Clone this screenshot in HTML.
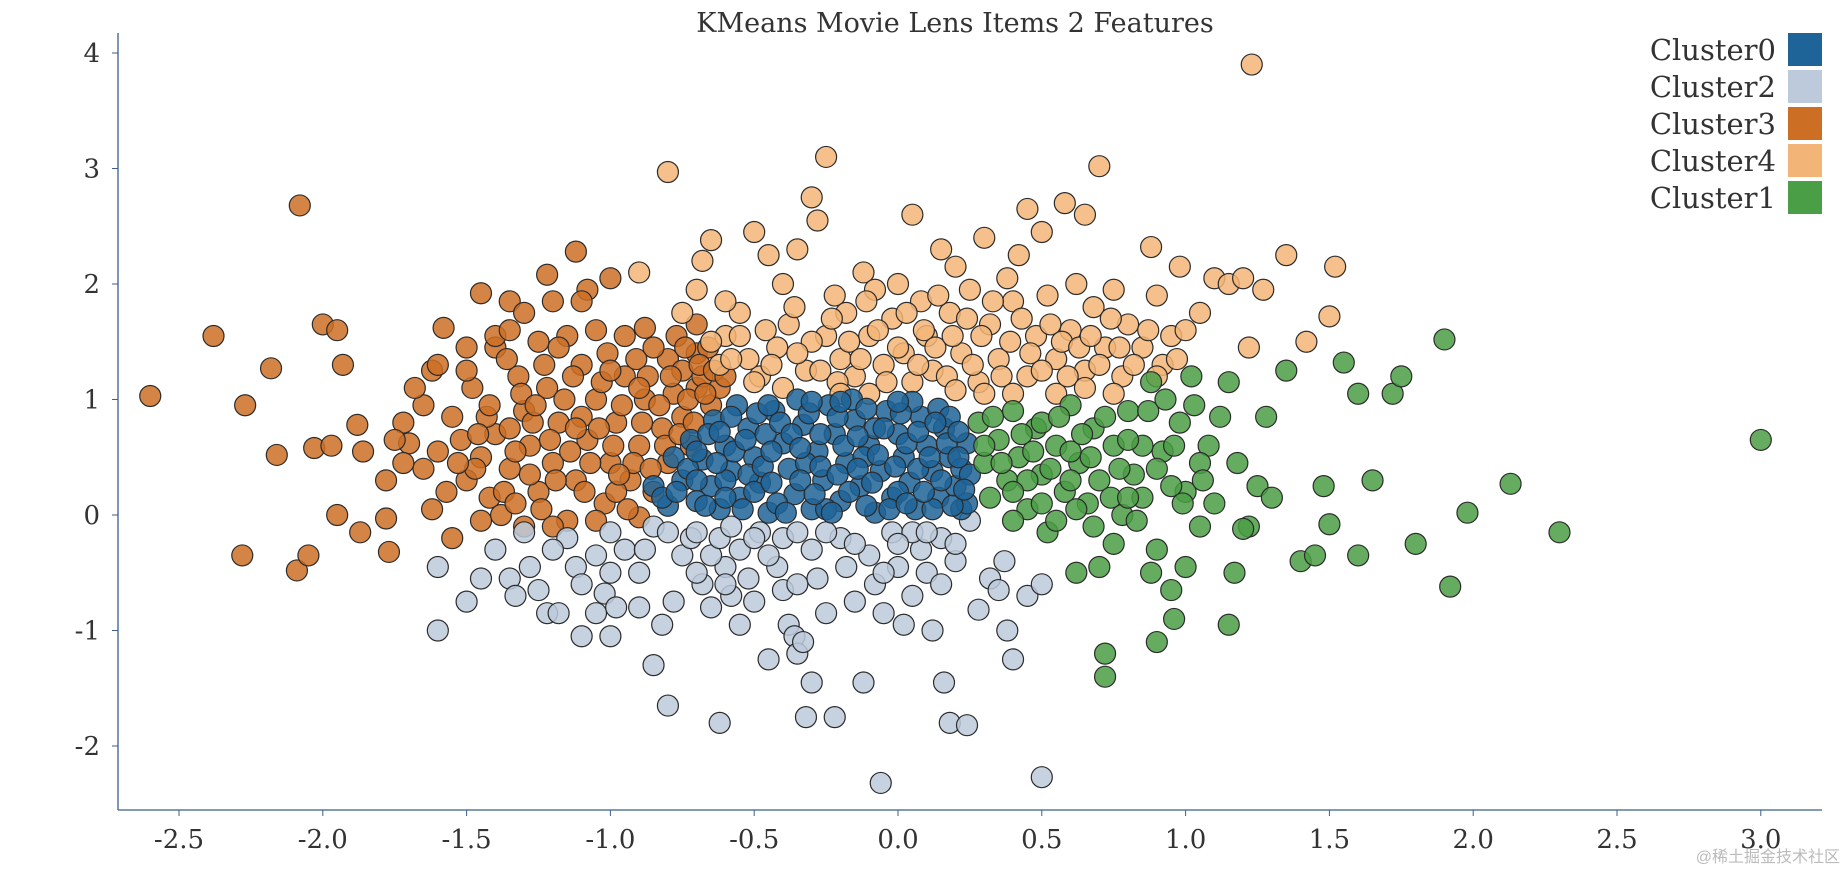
<!DOCTYPE html>
<html><head><meta charset="utf-8"><style>
body{margin:0;background:#fff;}
svg{display:block;font-family:"DejaVu Serif","Liberation Serif",serif;}
</style></head><body>
<svg id="chart" width="1848" height="872" viewBox="0 0 1848 872" xmlns="http://www.w3.org/2000/svg">
<text x="955" y="32" font-size="27" fill="#333" text-anchor="middle">KMeans Movie Lens Items 2 Features</text>
<g id="axes"></g>
<g id="points"></g>
<g id="legend"></g>
<text x="1840" y="862" font-size="16" fill="#bbb" text-anchor="end" font-family="'Liberation Sans','Noto Sans CJK SC',sans-serif">@稀土掘金技术社区</text>
</svg>
<script>
const xTicks=[-2.5,-2.0,-1.5,-1.0,-0.5,0.0,0.5,1.0,1.5,2.0,2.5,3.0];
const yTicks=[-2,-1,0,1,2,3,4];
const clusterNames=["Cluster0","Cluster2","Cluster3","Cluster4","Cluster1"];
const clusterColors=["#1f6499","#bccadb","#cc6f24","#f3b577","#4a9e45"];
const cluster3Points=[[-2.6,1.03],[-2.38,1.55],[-2.27,0.95],[-2.18,1.27],[-2.16,0.52],[-2.08,2.68],[-2.0,1.65],[-1.95,1.6],[-2.03,0.58],[-1.97,0.6],[-1.93,1.3],[-2.28,-0.35],[-2.09,-0.48],[-2.05,-0.35],[-1.95,0.0],[-1.88,0.78],[-1.86,0.55],[-1.87,-0.15],[-1.77,-0.32],[-1.78,-0.03],[-1.78,0.3],[-1.7,0.62],[-1.72,0.8],[-1.65,0.95],[-1.62,1.25],[-1.58,1.62],[-1.45,1.92],[-1.35,1.85],[-1.3,1.75],[-1.22,2.08],[-1.12,2.28],[-1.08,1.95],[-1.0,2.05],[-0.88,1.62],[-0.8,1.35],[-0.75,1.25],[-0.7,1.1],
[-1.5,0.3],[-1.45,0.5],[-1.4,0.7],[-1.42,0.15],[-1.38,0.0],[-1.35,0.4],[-1.3,0.9],[-1.28,0.6],[-1.25,0.2],[-1.22,1.1],[-1.2,0.45],[-1.18,0.8],[-1.15,-0.05],[-1.12,0.3],[-1.1,1.3],[-1.08,0.65],[-1.05,1.0],[-1.02,0.1],[-1.0,0.45],[-0.98,0.8],[-0.95,1.2],[-0.93,0.3],[-0.9,0.6],[-0.88,1.0],[-0.85,0.2],[-0.82,0.75],[-0.8,0.45],[-0.78,1.05],[-0.75,0.85],[-0.72,0.6],[-0.7,1.4],[-0.68,1.2],[-0.65,0.95],[-0.62,1.1],[-1.55,0.85],[-1.6,0.55],[-1.62,0.05],[-1.55,-0.2],[-1.48,1.1],[-1.4,1.45],[-1.32,1.2],[-1.25,1.5],[-1.15,1.55],[-1.05,1.6],[-0.95,1.55],[-0.85,1.45],[-1.3,-0.1],[-1.2,-0.1],[-1.05,-0.05],[-0.9,-0.02],[-1.45,-0.05],[-1.65,0.4],[-1.52,0.65],[-1.35,0.75],[-1.1,0.85],[-0.98,0.2],[-1.28,0.35],[-1.4,1.55],[-1.35,1.6],[-1.68,1.1],[-1.75,0.65],[-1.72,0.45],[-1.6,1.3],[-1.5,1.45],[-1.2,1.85],[-1.1,1.85],[-0.77,1.55],[-0.7,1.65],[-0.66,1.45],
[-1.47,0.4],[-1.43,0.85],[-1.37,0.2],[-1.33,0.55],[-1.31,1.05],[-1.27,0.8],[-1.24,0.05],[-1.21,0.65],[-1.19,0.3],[-1.16,1.0],[-1.14,0.55],[-1.13,1.2],[-1.09,0.2],[-1.07,0.45],[-1.04,0.75],[-1.03,1.15],[-1.01,1.4],[-0.99,0.6],[-0.96,0.95],[-0.94,0.05],[-0.92,0.45],[-0.91,1.35],[-0.89,0.8],[-0.87,1.2],[-0.86,0.4],[-0.83,0.95],[-0.81,0.6],[-0.79,1.2],[-0.76,0.7],[-0.74,1.45],[-0.73,1.0],[-0.71,0.8],[-0.69,1.3],[-0.67,1.05],[-0.64,1.25],[-0.6,1.2],[-1.57,0.2],[-1.53,0.45],[-1.5,1.25],[-1.46,0.7],[-1.36,1.35],[-1.33,0.1],[-1.23,1.3],[-1.18,1.45],[-1.0,1.25],[-0.9,1.1],[-1.42,0.95],[-1.26,0.95],[-1.12,0.75],[-0.97,0.35]];
const cluster2Points=[[-1.6,-1.0],[-1.6,-0.45],[-1.5,-0.75],[-1.45,-0.55],[-1.4,-0.3],[-1.35,-0.55],[-1.33,-0.7],[-1.28,-0.45],[-1.25,-0.65],[-1.22,-0.85],[-1.18,-0.85],[-1.12,-0.45],[-1.1,-0.6],[-1.1,-1.05],[-1.05,-0.85],[-1.02,-0.68],[-1.0,-1.05],[-0.98,-0.8],[-0.95,-0.3],[-0.9,-0.5],[-0.85,-0.1],[-0.82,-0.95],[-0.85,-1.3],[-0.8,-1.65],[-0.78,-0.75],[-0.75,-0.35],[-0.72,-0.2],[-0.68,-0.6],[-0.65,-0.8],[-0.62,-1.8],[-0.6,-0.45],[-0.58,-0.7],[-0.55,-0.3],[-0.52,-0.55],[-0.5,-0.75],[-0.48,-0.15],[-0.45,-1.25],[-0.42,-0.45],[-0.4,-0.65],[-0.38,-0.95],[-0.36,-1.05],[-0.35,-1.2],[-0.33,-1.1],[-0.32,-1.75],[-0.3,-1.45],[-0.3,-0.3],[-0.28,-0.55],[-0.25,-0.85],[-0.22,-1.75],[-0.2,-0.2],[-0.18,-0.45],[-0.15,-0.75],[-0.12,-1.45],[-0.1,-0.35],[-0.08,-0.6],[-0.06,-2.32],[-0.05,-0.85],[-0.02,-0.15],[0.0,-0.45],[0.02,-0.95],[0.05,-0.7],[0.08,-0.3],[0.1,-0.5],[0.12,-1.0],[0.15,-0.2],[0.16,-1.45],[0.18,-1.8],[0.2,-0.4],[0.24,-1.82],[0.25,-0.05],[0.28,-0.82],[0.32,-0.55],[0.35,-0.65],[0.37,-0.4],[0.38,-1.0],[0.4,-1.25],[0.45,-0.7],[0.5,-0.6],[0.5,-2.27],[-0.5,-0.2],[-0.7,-0.15],[-1.3,-0.15],[-1.15,-0.2],[-1.0,-0.15],[-0.4,-0.2],[-0.25,-0.15],[0.05,-0.15],[-0.65,-0.35],[-0.9,-0.8],[-0.55,-0.95],
[-1.2,-0.3],[-1.05,-0.35],[-0.88,-0.3],[-0.8,-0.15],[-0.62,-0.2],[-0.58,-0.1],[-0.45,-0.35],[-0.35,-0.15],[-0.15,-0.25],[0.0,-0.25],[0.1,-0.15],[0.2,-0.25],[-0.7,-0.5],[-0.35,-0.6],[-0.05,-0.5],[0.15,-0.6],[-1.0,-0.5],[-0.6,-0.6]];
const cluster4Points=[[-0.9,2.1],[-0.8,2.97],[-0.75,1.75],[-0.7,1.95],[-0.68,2.2],[-0.65,2.38],[-0.6,1.55],[-0.55,1.75],[-0.5,2.45],[-0.48,1.2],[-0.45,2.25],[-0.42,1.45],[-0.4,2.0],[-0.38,1.65],[-0.35,2.3],[-0.32,1.25],[-0.3,2.75],[-0.28,2.55],[-0.25,3.1],[-0.25,1.55],[-0.22,1.9],[-0.2,1.35],[-0.18,1.75],[-0.15,1.2],[-0.12,2.1],[-0.1,1.55],[-0.08,1.95],[-0.05,1.3],[-0.02,1.7],[0.0,2.0],[0.02,1.4],[0.05,2.6],[0.05,1.15],[0.08,1.85],[0.1,1.55],[0.12,1.25],[0.15,2.3],[0.18,1.75],[0.2,2.15],[0.22,1.4],[0.25,1.95],[0.28,1.15],[0.3,2.4],[0.32,1.65],[0.35,1.35],[0.38,2.05],[0.4,1.85],[0.42,2.25],[0.45,1.2],[0.45,2.65],[0.48,1.55],[0.5,2.45],[0.52,1.9],[0.55,1.35],[0.58,2.7],[0.6,1.6],[0.62,2.0],[0.65,1.25],[0.65,2.6],[0.68,1.8],[0.7,3.02],[0.72,1.45],[0.75,1.95],[0.78,1.2],[0.8,1.65],[0.85,1.45],[0.88,2.32],[0.9,1.9],[0.92,1.3],[0.95,1.55],[0.98,2.15],[1.0,1.6],[1.05,1.75],[1.1,2.05],[1.15,2.0],[1.2,2.05],[1.22,1.45],[1.23,3.9],[1.27,1.95],[1.35,2.25],[1.42,1.5],[1.5,1.72],[1.52,2.15],[-0.62,1.3],[-0.52,1.35],[-0.4,1.1],[-0.3,1.5],[-0.1,1.05],[0.3,1.05],[0.55,1.05],[0.75,1.05],
[-0.58,1.35],[-0.55,1.55],[-0.5,1.15],[-0.46,1.6],[-0.44,1.3],[-0.36,1.8],[-0.35,1.4],[-0.27,1.25],[-0.23,1.7],[-0.21,1.15],[-0.17,1.5],[-0.13,1.35],[-0.11,1.85],[-0.07,1.6],[-0.04,1.15],[0.0,1.45],[0.03,1.75],[0.07,1.3],[0.09,1.6],[0.13,1.45],[0.14,1.9],[0.17,1.2],[0.19,1.55],[0.24,1.7],[0.26,1.3],[0.29,1.55],[0.33,1.85],[0.36,1.2],[0.39,1.5],[0.43,1.7],[0.46,1.4],[0.5,1.25],[0.53,1.65],[0.57,1.5],[0.59,1.2],[0.63,1.45],[0.67,1.55],[0.7,1.3],[0.74,1.7],[0.77,1.45],[0.82,1.3],[0.87,1.6],[0.9,1.2],[0.97,1.35],[-0.65,1.5],[-0.6,1.85],[0.4,1.05],[0.65,1.1],[0.2,1.08],[-0.2,1.05]];
const cluster0Points=[[-0.8,0.08],[-0.75,0.3],[-0.7,0.12],[-0.68,0.48],[-0.65,0.25],[-0.62,0.05],[-0.6,0.6],[-0.58,0.38],[-0.55,0.15],[-0.52,0.75],[-0.5,0.5],[-0.48,0.28],[-0.45,0.02],[-0.43,0.9],[-0.4,0.62],[-0.38,0.4],[-0.36,0.18],[-0.33,0.78],[-0.3,0.05],[-0.28,0.55],[-0.26,0.3],[-0.24,0.95],[-0.22,0.7],[-0.2,0.12],[-0.18,0.45],[-0.15,0.82],[-0.13,0.25],[-0.1,0.6],[-0.08,0.02],[-0.06,0.38],[-0.04,0.9],[-0.02,0.15],[0.0,0.7],[0.02,0.5],[0.04,0.28],[0.06,0.05],[0.08,0.85],[0.1,0.6],[0.12,0.38],[0.14,0.15],[0.16,0.75],[0.18,0.5],[0.2,0.25],[0.22,0.05],[0.24,0.62],[0.22,0.4],[-0.72,0.65],[-0.64,0.82],[-0.56,0.95],[-0.46,0.7],[-0.35,1.0],[-0.16,1.0],[0.05,0.98],[0.14,0.92],[-0.6,0.3],[-0.42,0.1],[-0.32,0.45],[-0.12,0.5],[0.0,0.2],[-0.25,0.05],[0.12,0.05],[-0.52,0.35],[-0.08,0.75],[0.18,0.85],[-0.78,0.5],[-0.85,0.25],[0.25,0.35],[0.24,0.1],
[-0.82,0.15],[-0.77,0.2],[-0.73,0.4],[-0.7,0.3],[-0.67,0.08],[-0.66,0.7],[-0.63,0.45],[-0.6,0.15],[-0.58,0.85],[-0.57,0.55],[-0.54,0.05],[-0.53,0.65],[-0.5,0.2],[-0.49,0.88],[-0.47,0.42],[-0.44,0.55],[-0.44,0.28],[-0.41,0.8],[-0.39,0.02],[-0.37,0.7],[-0.34,0.3],[-0.34,0.58],[-0.31,0.88],[-0.29,0.18],[-0.27,0.42],[-0.27,0.7],[-0.23,0.02],[-0.21,0.35],[-0.21,0.85],[-0.19,0.6],[-0.17,0.2],[-0.14,0.4],[-0.14,0.68],[-0.11,0.92],[-0.11,0.08],[-0.09,0.28],[-0.07,0.52],[-0.05,0.75],[-0.03,0.05],[-0.01,0.42],[0.01,0.88],[0.03,0.62],[0.03,0.1],[0.07,0.4],[0.07,0.72],[0.09,0.2],[0.11,0.5],[0.13,0.8],[0.15,0.3],[0.17,0.62],[0.19,0.08],[0.21,0.72],[0.21,0.5],[0.23,0.22],[-0.3,0.98],[-0.45,0.95],[-0.2,0.98],[0.0,0.98],[-0.62,0.72],[-0.7,0.55]];
const cluster1Points=[[0.28,0.8],[0.3,0.45],[0.32,0.15],[0.35,0.65],[0.38,0.3],[0.4,0.9],[0.42,0.5],[0.45,0.05],[0.48,0.75],[0.5,0.35],[0.52,-0.15],[0.55,0.6],[0.58,0.2],[0.6,0.95],[0.62,-0.5],[0.63,0.45],[0.66,0.1],[0.68,0.75],[0.7,-0.45],[0.7,0.3],[0.72,-1.2],[0.72,-1.4],[0.75,0.6],[0.78,0.0],[0.8,0.9],[0.82,0.35],[0.85,0.15],[0.88,-0.5],[0.88,1.15],[0.9,-0.3],[0.9,-1.1],[0.92,0.55],[0.95,-0.65],[0.96,-0.9],[0.98,0.8],[1.0,-0.45],[1.0,0.2],[1.02,1.2],[1.05,-0.1],[1.08,0.6],[1.12,0.85],[1.15,-0.95],[1.17,-0.5],[1.18,0.45],[1.22,-0.1],[1.25,0.25],[1.28,0.85],[1.3,0.15],[1.35,1.25],[1.4,-0.4],[1.45,-0.35],[1.48,0.25],[1.5,-0.08],[1.55,1.32],[1.6,-0.35],[1.6,1.05],[1.65,0.3],[1.72,1.05],[1.75,1.2],[1.8,-0.25],[1.9,1.52],[1.92,-0.62],[1.98,0.02],[2.13,0.27],[2.3,-0.15],[3.0,0.65],[1.2,-0.12],[1.1,0.1],[0.95,0.25],[0.85,0.6],[0.6,0.55],[0.5,0.8],[0.45,0.3],[1.15,1.15],[1.05,0.45],
[0.3,0.6],[0.33,0.85],[0.36,0.45],[0.4,0.2],[0.43,0.7],[0.47,0.55],[0.5,0.1],[0.53,0.4],[0.56,0.85],[0.6,0.3],[0.64,0.7],[0.67,0.5],[0.72,0.85],[0.74,0.15],[0.77,0.4],[0.8,0.65],[0.83,-0.05],[0.87,0.9],[0.9,0.4],[0.93,1.0],[0.96,0.6],[0.99,0.1],[1.03,0.95],[1.06,0.3],[0.4,-0.05],[0.55,-0.05],[0.68,-0.1],[0.8,0.15],[0.75,-0.25],[0.62,0.05]];

const NS="http://www.w3.org/2000/svg";
const X0=898, XU=287.6, Y0=515, YU=115.5;
function sx(v){return X0+v*XU;}
function sy(v){return Y0-v*YU;}
function mk(tag,attrs,parent){const e=document.createElementNS(NS,tag);for(const k in attrs)e.setAttribute(k,attrs[k]);parent.appendChild(e);return e;}

const axes=document.getElementById('axes');
const yl=mk('line',{x1:118,y1:33,x2:118,y2:810,stroke:'#3a5f8a','stroke-width':1.3},axes);


const xl=mk('line',{x1:118,y1:810,x2:1822,y2:810,stroke:'#3a5f8a','stroke-width':1.3},axes);


yTicks.forEach(v=>{
  const t=mk('line',{x1:112,y1:sy(v),x2:118,y2:sy(v),stroke:'#3a5f8a'},axes);
  
  
  const l=mk('text',{x:100,y:sy(v)+9,'font-size':26,fill:'#333','text-anchor':'end'},axes);
  l.textContent=String(v);
  
  
});
xTicks.forEach(v=>{
  const t=mk('line',{x1:sx(v),y1:810,x2:sx(v),y2:816,stroke:'#3a5f8a'},axes);
  
  
  const l=mk('text',{x:sx(v),y:848,'font-size':26,fill:'#333','text-anchor':'middle'},axes);
  l.textContent=v.toFixed(1);
  
  
});

const pts=document.getElementById('points');
const order=[[cluster3Points,2,'cluster3-point'],[cluster2Points,1,'cluster2-point'],[cluster4Points,3,'cluster4-point'],[cluster0Points,0,'cluster0-point'],[cluster1Points,4,'cluster1-point']];
order.forEach(([arr,ci,name])=>{
  arr.forEach(p=>{
    const c=mk('circle',{cx:sx(p[0]),cy:sy(p[1]),r:10.5,fill:clusterColors[ci],'fill-opacity':0.85,stroke:'#2b2b2b','stroke-width':1.2},pts);
    
    
  });
});

const lg=document.getElementById('legend');
clusterNames.forEach((n,i)=>{
  const top=33+i*37;
  const r=mk('rect',{x:1788,y:top,width:34,height:33,fill:clusterColors[i]},lg);
  
  
  const t=mk('text',{x:1776,y:top+27,'font-size':29,fill:'#333','text-anchor':'end'},lg);
  t.textContent=n;
  
  
});
</script>
</body></html>
